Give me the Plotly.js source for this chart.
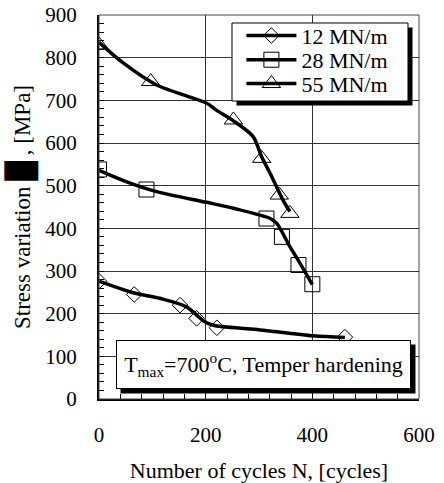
<!DOCTYPE html>
<html><head><meta charset="utf-8">
<script src="https://cdn.plot.ly/plotly-3.0.1.min.js"></script>
<style>html,body{margin:0;padding:0;background:#fff}</style>
</head><body><div id="chart" style="width:444px;height:483px"></div>
<script>
// ---- data ----
const seriesNames = ['12 MN/m', '28 MN/m', '55 MN/m'];
// measured points
const n12 = [0, 66, 152, 183, 221, 461];
const s12 = [276, 245, 220, 189, 167, 145];
const n28 = [0, 89, 314, 343, 374, 400];
const s28 = [538, 491, 423, 380, 314, 269];
const n55 = [0, 97, 252, 305, 338, 358];
const s55 = [830, 744, 654, 564, 478, 435];
// fitted trend curves
const fitN12 = [0, 64, 114, 164, 196, 214, 296, 402, 461];
const fitS12 = [276, 249, 236, 216, 183, 173, 163, 148, 144];
const fitN28 = [0, 52, 108, 202, 252, 321, 333, 358, 377, 400];
const fitS28 = [536, 509, 486, 461, 447, 423, 412, 357, 318, 268];
const fitN55 = [0, 46, 108, 202, 220, 252, 289, 305, 324, 345, 358];
const fitS55 = [836, 787, 736, 693, 677, 652, 615, 568, 521, 466, 439];
const xTickVals = [0, 200, 400, 600];
const yTickVals = [0, 100, 200, 300, 400, 500, 600, 700, 800, 900];
const annotationText = 'T<sub>max</sub>=700<sup>o</sup>C, Temper hardening';
const yTitleText = 'Stress variation <span style="font-size:28px">█</span> , [MPa]';

const FONT = 'Liberation Serif';
const symbols = ['diamond-open', 'square-open', 'triangle-up-open'];
const sizes = [12, 15, 16];
const pts = [[n12, s12], [n28, s28], [n55, s55]];
const fits = [[fitN12, fitS12], [fitN28, fitS28], [fitN55, fitS55]];
const legendIds = ['legend', 'legend2', 'legend3'];

const lineStyle = {color: '#000', width: 3.5, shape: 'spline', smoothing: 0.8};
const traces = [];
for (let i = 0; i < 3; i++) {
  traces.push({x: fits[i][0], y: fits[i][1], mode: 'lines', line: lineStyle,
    showlegend: false, hoverinfo: 'skip'});
  traces.push({x: pts[i][0], y: pts[i][1], mode: 'markers',
    marker: {symbol: symbols[i], size: sizes[i], color: '#000', line: {width: 1, color: '#000'}},
    showlegend: false});
  traces.push({x: [null], y: [null], mode: 'lines+markers', name: seriesNames[i],
    line: {color: '#000', width: 3.5},
    marker: {symbol: symbols[i], size: sizes[i], color: '#000', line: {width: 1, color: '#000'}},
    legend: legendIds[i], showlegend: true});
}

function legendAt(y) {
  return {x: 0.445, xanchor: 'left', y: y, yanchor: 'middle', bgcolor: 'rgba(0,0,0,0)',
    borderwidth: 0, font: {family: FONT, size: 22, color: '#000'}, itemwidth: 50};
}

const layout = {
  width: 444, height: 483,
  margin: {l: 99, r: 25, t: 15, b: 84},
  paper_bgcolor: '#fff', plot_bgcolor: '#fff',
  font: {family: FONT, color: '#000', size: 21},
  showlegend: true,
  legend: legendAt(0.946),
  legend2: legendAt(0.883),
  legend3: legendAt(0.821),
  xaxis: {
    range: [0, 600], tickvals: xTickVals, ticks: 'inside', ticklen: 5, tickcolor: '#000',
    showgrid: true, gridcolor: '#333', gridwidth: 1, zeroline: false,
    showline: true, linecolor: '#000', linewidth: 2,
    tickfont: {family: FONT, size: 21, color: '#000'}, ticklabelstandoff: 16,
    minor: {dtick: 40, tick0: 0, ticks: 'inside', ticklen: 5, tickcolor: '#000', showgrid: false},
    title: {text: 'Number of cycles N, [cycles]', font: {family: FONT, size: 22, color: '#000'}, standoff: 17}
  },
  yaxis: {
    range: [0, 900], tickvals: yTickVals, ticks: 'inside', ticklen: 5, tickcolor: '#000',
    showgrid: true, gridcolor: '#333', gridwidth: 1, zeroline: false,
    showline: true, linecolor: '#000', linewidth: 2,
    tickfont: {family: FONT, size: 21, color: '#000'}, ticklabelstandoff: 16,
    minor: {dtick: 20, tick0: 0, ticks: 'inside', ticklen: 5, tickcolor: '#000', showgrid: false},
    title: {text: yTitleText, font: {family: FONT, size: 23, color: '#000'}, standoff: 8}
  },
  shapes: [
    {type: 'rect', xref: 'paper', yref: 'paper', x0: 0, x1: 1, y0: 0, y1: 1,
      line: {color: '#444', width: 1}, layer: 'above'},
    // legend box shadow + box
    {type: 'rect', xref: 'paper', yref: 'paper', x0: 0.4297, x1: 0.9797, y0: 0.7643, y1: 0.9674,
      line: {width: 0}, fillcolor: '#000', layer: 'above'},
    {type: 'rect', xref: 'paper', yref: 'paper', x0: 0.4156, x1: 0.9656, y0: 0.776, y1: 0.9792,
      line: {width: 1, color: '#000'}, fillcolor: '#fff', layer: 'above'},
    // annotation shadow
    {type: 'rect', xref: 'paper', yref: 'paper', x0: 0.0672, x1: 0.989, y0: 0.0143, y1: 0.1419,
      line: {width: 0}, fillcolor: '#000', layer: 'above'}
  ],
  annotations: [{
    text: annotationText, xref: 'paper', yref: 'paper', x: 0.514, y: 0.0898,
    xanchor: 'center', yanchor: 'middle', showarrow: false,
    font: {family: FONT, size: 22, color: '#000'},
    bgcolor: '#fff', bordercolor: '#000', borderwidth: 1, borderpad: 2, width: 289, height: 43
  }]
};

Plotly.newPlot('chart', traces, layout, {displayModeBar: false, staticPlot: true});
</script></body></html>
